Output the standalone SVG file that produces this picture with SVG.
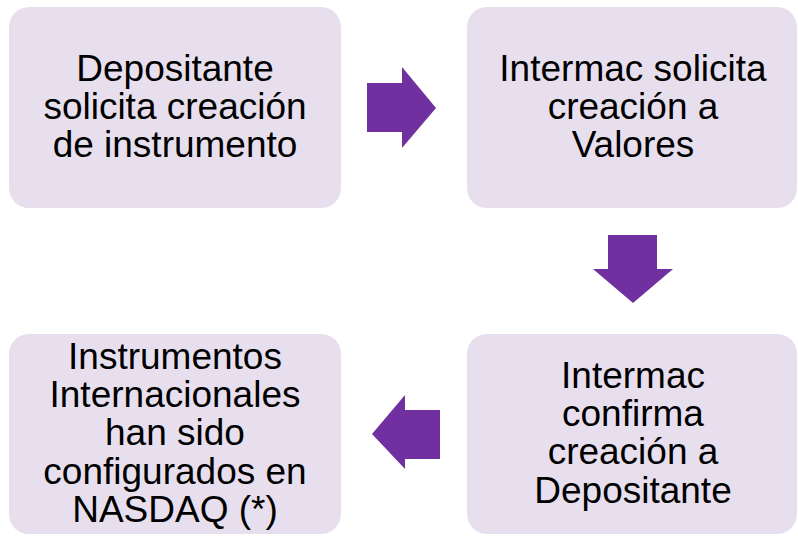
<svg xmlns="http://www.w3.org/2000/svg" width="798" height="536" viewBox="0 0 798 536">
<style>
.box{fill:#E8DFEE;}
.arrow{fill:#7030A0;}
.t{font-family:"Liberation Sans",Arial,sans-serif;font-size:37px;fill:#000;text-anchor:middle;}
</style>
<rect width="798" height="536" fill="#FFFFFF"/>
<g id="node1">
<rect class="box" x="9" y="7" width="332" height="201" rx="20"/>
<text class="t" x="175" y="81">Depositante</text>
<text class="t" x="175" y="119">solicita creación</text>
<text class="t" x="175" y="157">de instrumento</text>
</g>
<g id="node2">
<rect class="box" x="467" y="7" width="330" height="201" rx="20"/>
<text class="t" x="633" y="81">Intermac solicita</text>
<text class="t" x="633" y="119">creación a</text>
<text class="t" x="633" y="157">Valores</text>
</g>
<g id="node3">
<rect class="box" x="467" y="334" width="330" height="200" rx="20"/>
<text class="t" x="633" y="388">Intermac</text>
<text class="t" x="633" y="426">confirma</text>
<text class="t" x="633" y="464">creación a</text>
<text class="t" x="633" y="503">Depositante</text>
</g>
<g id="node4">
<rect class="box" x="9" y="334" width="332" height="200" rx="20"/>
<text class="t" x="175" y="369">Instrumentos</text>
<text class="t" x="175" y="407">Internacionales</text>
<text class="t" x="175" y="445">han sido</text>
<text class="t" x="175" y="484">configurados en</text>
<text class="t" x="175" y="522">NASDAQ (*)</text>
</g>
<g id="connectors">
<polygon class="arrow" points="367,83 402,83 402,67 436,108 402,148 402,132 367,132"/>
<polygon class="arrow" points="608,235 657,235 657,269 673,269 633,303 593,269 608,269"/>
<polygon class="arrow" points="440,410 405,410 405,395 372,434 405,469 405,459 440,459"/>
</g>
</svg>
